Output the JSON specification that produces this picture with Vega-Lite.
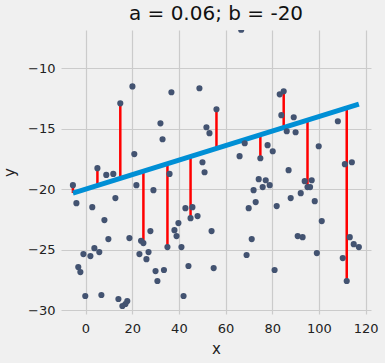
{
  "$schema": "https://vega.github.io/schema/vega-lite/v6.json",
  "width": 310,
  "height": 284,
  "autosize": "none",
  "padding": {"left": 61, "top": 30, "right": 14, "bottom": 49},
  "background": "#f0f0f0",
  "title": {"text": "a = 0.06; b = -20", "fontSize": 20, "font": "DejaVu Sans", "fontWeight": "normal", "color": "#111111", "offset": 6},
  "config": {
    "view": {"stroke": null, "fill": "#f0f0f0"},
    "axis": {
      "domain": false, "ticks": false, "grid": true, "gridColor": "#cbcbcb", "gridWidth": 1.2,
      "labelFont": "DejaVu Sans", "labelFontSize": 13, "labelColor": "#222222",
      "titleFont": "DejaVu Sans", "titleFontSize": 15, "titleFontWeight": "normal", "titleColor": "#222222"
    }
  },
  "datasets": {
    "points": [
      {"x": 20.1, "y": -11.5}, {"x": 14.9, "y": -12.9}, {"x": 32.1, "y": -14.55}, {"x": 33.0, "y": -15.87},
      {"x": 20.9, "y": -17.1}, {"x": 5.1, "y": -18.26}, {"x": 8.9, "y": -18.82}, {"x": 11.9, "y": -18.74},
      {"x": -5.4, "y": -19.67}, {"x": -3.9, "y": -21.16}, {"x": 2.9, "y": -21.49}, {"x": 8.1, "y": -22.56},
      {"x": 12.8, "y": -20.74}, {"x": 21.8, "y": -19.67}, {"x": 29.1, "y": -20.08}, {"x": 27.8, "y": -23.47},
      {"x": 9.8, "y": -24.13}, {"x": 18.8, "y": -24.05}, {"x": 23.8, "y": -24.27}, {"x": 24.8, "y": -24.46},
      {"x": 3.8, "y": -24.88}, {"x": -0.9, "y": -25.37}, {"x": 2.1, "y": -25.54}, {"x": 5.9, "y": -25.21},
      {"x": 23.1, "y": -25.37}, {"x": 27.0, "y": -25.21}, {"x": 26.1, "y": -25.79}, {"x": -3.1, "y": -26.45},
      {"x": -2.2, "y": -26.86}, {"x": 30.0, "y": -26.78}, {"x": 33.6, "y": -26.69}, {"x": 30.8, "y": -27.6},
      {"x": -0.1, "y": -28.84}, {"x": 6.8, "y": -28.76}, {"x": 14.1, "y": -29.09}, {"x": 17.9, "y": -29.26},
      {"x": 17.1, "y": -29.5}, {"x": 15.8, "y": -29.67}, {"x": 11.1, "y": -30.66}, {"x": 66.7, "y": -6.81},
      {"x": 36.8, "y": -11.98}, {"x": 48.8, "y": -11.65}, {"x": 56.1, "y": -13.39}, {"x": 51.8, "y": -14.88},
      {"x": 53.1, "y": -15.37}, {"x": 68.2, "y": -16.2}, {"x": 66.0, "y": -17.27}, {"x": 74.9, "y": -17.44},
      {"x": 78.0, "y": -16.36}, {"x": 50.1, "y": -17.77}, {"x": 51.0, "y": -18.6}, {"x": 36.0, "y": -18.74},
      {"x": 42.8, "y": -21.57}, {"x": 45.8, "y": -21.49}, {"x": 45.0, "y": -22.4}, {"x": 48.0, "y": -22.23},
      {"x": 39.8, "y": -22.81}, {"x": 38.1, "y": -23.39}, {"x": 39.0, "y": -23.88}, {"x": 54.0, "y": -23.47},
      {"x": 35.1, "y": -24.79}, {"x": 41.1, "y": -24.79}, {"x": 44.1, "y": -26.36}, {"x": 54.9, "y": -26.53},
      {"x": 42.0, "y": -28.84}, {"x": 74.2, "y": -19.17}, {"x": 77.2, "y": -19.26}, {"x": 78.9, "y": -19.67},
      {"x": 75.9, "y": -19.83}, {"x": 72.0, "y": -20.08}, {"x": 72.9, "y": -21.07}, {"x": 69.9, "y": -21.57},
      {"x": 71.2, "y": -24.13}, {"x": 69.0, "y": -25.45}, {"x": 83.2, "y": -12.15}, {"x": 84.9, "y": -11.9},
      {"x": 83.9, "y": -13.88}, {"x": 89.2, "y": -14.05}, {"x": 86.2, "y": -15.21}, {"x": 90.0, "y": -15.29},
      {"x": 80.2, "y": -16.86}, {"x": 108.1, "y": -14.38}, {"x": 99.9, "y": -16.45}, {"x": 87.0, "y": -18.43},
      {"x": 111.1, "y": -17.93}, {"x": 114.1, "y": -17.77}, {"x": 93.9, "y": -19.34}, {"x": 96.9, "y": -19.26},
      {"x": 95.1, "y": -19.83}, {"x": 96.2, "y": -19.83}, {"x": 92.2, "y": -20.33}, {"x": 87.9, "y": -20.74},
      {"x": 98.2, "y": -20.99}, {"x": 81.9, "y": -21.4}, {"x": 101.2, "y": -22.64}, {"x": 90.9, "y": -23.88},
      {"x": 93.0, "y": -23.97}, {"x": 99.1, "y": -25.29}, {"x": 81.0, "y": -26.69}, {"x": 110.2, "y": -25.7},
      {"x": 113.2, "y": -23.97}, {"x": 114.9, "y": -24.55}, {"x": 117.1, "y": -24.79}, {"x": 111.9, "y": -27.6}
    ],
    "resid": [
      {"x": -5.4, "y": -19.67, "yhat": -20.32}, {"x": 5.1, "y": -18.26, "yhat": -19.69},
      {"x": 14.9, "y": -12.9, "yhat": -19.11}, {"x": 24.8, "y": -24.46, "yhat": -18.51},
      {"x": 35.1, "y": -24.79, "yhat": -17.89}, {"x": 45.0, "y": -22.4, "yhat": -17.3},
      {"x": 56.1, "y": -13.39, "yhat": -16.63}, {"x": 74.9, "y": -17.44, "yhat": -15.51},
      {"x": 84.9, "y": -11.9, "yhat": -14.91}, {"x": 95.1, "y": -19.83, "yhat": -14.29},
      {"x": 111.9, "y": -27.6, "yhat": -13.29}
    ],
    "fit": [
      {"x": -5.4, "y": -20.32}, {"x": 117.1, "y": -12.97}
    ]
  },
  "layer": [
    {
      "data": {"name": "resid"},
      "mark": {"type": "rule", "color": "#ff0000", "strokeWidth": 2.5, "clip": true},
      "encoding": {
        "x": {"field": "x", "type": "quantitative", "scale": {"domain": [-10.5, 122.3], "nice": false, "zero": false},
              "axis": {"values": [0, 20, 40, 60, 80, 100, 120], "title": "x", "labelPadding": 8, "titlePadding": 6}},
        "y": {"field": "y", "type": "quantitative", "scale": {"domain": [-30.33, -6.83], "nice": false, "zero": false},
              "axis": {"values": [-30, -25, -20, -15, -10], "title": "y", "labelPadding": 6, "titlePadding": 10,
                       "labelExpr": "datum.value < 0 ? '\u2212' + abs(datum.value) : datum.label"}},
        "y2": {"field": "yhat"}
      }
    },
    {
      "data": {"name": "fit"},
      "mark": {"type": "line", "color": "#008fd5", "strokeWidth": 5, "clip": true},
      "encoding": {
        "x": {"field": "x", "type": "quantitative"},
        "y": {"field": "y", "type": "quantitative"}
      }
    },
    {
      "data": {"name": "points"},
      "mark": {"type": "circle", "color": "#435371", "size": 38, "opacity": 1, "clip": true},
      "encoding": {
        "x": {"field": "x", "type": "quantitative"},
        "y": {"field": "y", "type": "quantitative"}
      }
    }
  ]
}
